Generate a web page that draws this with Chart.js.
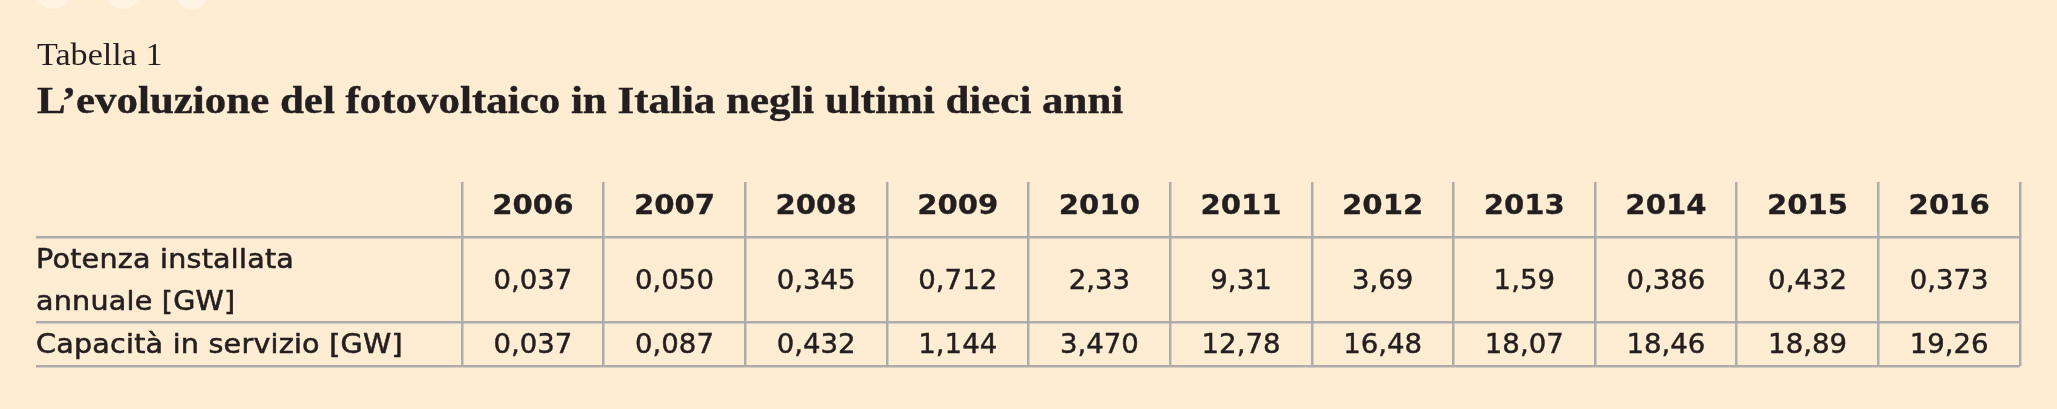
<!DOCTYPE html>
<html>
<head>
<meta charset="utf-8">
<script src="https://cdn.jsdelivr.net/npm/chart.js@4.4.1/dist/chart.umd.min.js"></script>
<style>
  html, body { margin: 0; padding: 0; background: #feedd3; }
  #wrap { width: 2057px; height: 409px; }
</style>
</head>
<body>
<div id="wrap"><canvas id="c" width="2057" height="409"></canvas></div>
<script>
// ---- data ----
const tableLabel = 'Tabella 1';
const tableTitle = 'L’evoluzione del fotovoltaico in Italia negli ultimi dieci anni';
const years = [2006, 2007, 2008, 2009, 2010, 2011, 2012, 2013, 2014, 2015, 2016];
const rowLabels = [['Potenza installata', 'annuale [GW]'], ['Capacità in servizio [GW]']];
const installedGW = [0.037, 0.050, 0.345, 0.712, 2.33, 9.31, 3.69, 1.59, 0.386, 0.432, 0.373];
const installedDecimals = [3, 3, 3, 3, 2, 2, 2, 2, 3, 3, 3];
const capacityGW = [0.037, 0.087, 0.432, 1.144, 3.470, 12.78, 16.48, 18.07, 18.46, 18.89, 19.26];
const capacityDecimals = [3, 3, 3, 3, 3, 2, 2, 2, 2, 2, 2];

// ---- layout (positions / styles, not data) ----
const rowBounds = [55, 140, 184];     // y-scale units: header | row1 | row2
const rowCenters = [22.5, 97.5, 162];
const labelColumnUnits = 3.008;       // width of label column, in year-columns
const textColor = '#231f20';
const lineColor = '#adadad';
const bgColor = '#feedd3';

const styles = {
  kicker: { font: '31px "Liberation Serif"', sx: 1.1, stroke: 0 },
  title:  { font: 'bold 38px "Liberation Serif"', sx: 1.13, stroke: 0.4 },
  header: { font: 'bold 27px "DejaVu Sans"', sx: 1.08, stroke: 0.3, spacing: 0 },
  cell:   { font: '26px "DejaVu Sans"', sx: 1.06, stroke: 0.45, spacing: 0 },
  label:  { font: '26px "DejaVu Sans"', sx: 1.1, stroke: 0.55, spacing: 0.2 }
};

const fmt = (v, d) => v.toFixed(d).replace('.', ',');

function drawText(ctx, text, x, y, st, align) {
  ctx.save();
  ctx.font = st.font;
  ctx.letterSpacing = (st.spacing || 0) + 'px';
  ctx.textAlign = align;
  ctx.textBaseline = 'alphabetic';
  ctx.fillStyle = textColor;
  ctx.strokeStyle = textColor;
  ctx.translate(x, y);
  ctx.scale(st.sx, 1);
  ctx.fillText(text, 0, 0);
  if (st.stroke) { ctx.lineWidth = st.stroke; ctx.strokeText(text, 0, 0); }
  ctx.restore();
}

const bgPlugin = {
  id: 'bg',
  beforeDraw(chart) {
    const ctx = chart.ctx;
    ctx.save();
    ctx.fillStyle = bgColor;
    ctx.fillRect(0, 0, chart.width, chart.height);
    ctx.fillStyle = '#fff4e6';
    [53, 123, 192].forEach(cx => { ctx.beginPath(); ctx.arc(cx, -8, 17, 0, Math.PI * 2); ctx.fill(); });
    ctx.restore();
    // headings, left-aligned with the table
    const left = chart.chartArea.left + 1;
    drawText(ctx, tableLabel, left, 65, styles.kicker, 'left');
    drawText(ctx, tableTitle, left, 113, styles.title, 'left');
  }
};

const tablePlugin = {
  id: 'tableText',
  afterDatasetsDraw(chart) {
    const ctx = chart.ctx;
    const xs = chart.scales.x, ys = chart.scales.y;
    chart.data.datasets.forEach((ds, di) => {
      const meta = chart.getDatasetMeta(di);
      const st = di === 0 ? styles.header : styles.cell;
      const size = parseFloat(st.font.match(/(\d+)px/)[1]);
      meta.data.forEach((pt, i) => {
        drawText(ctx, ds.texts[i], pt.x, pt.y + 0.3645 * size, st, 'center');
      });
    });
    // row labels in the first column
    const lx = xs.getPixelForValue(xs.min);
    rowLabels.forEach((lines, r) => {
      const cy = ys.getPixelForValue(rowCenters[r + 1]);
      const lh = 42;
      lines.forEach((line, k) => {
        const y = cy + (k - (lines.length - 1) / 2) * lh + 0.3645 * 26;
        drawText(ctx, line, lx, y, styles.label, 'left');
      });
    });
  }
};

const gridOpts = { color: lineColor, lineWidth: 2.5, drawTicks: false };

new Chart(document.getElementById('c'), {
  type: 'scatter',
  data: {
    datasets: [
      { label: 'Anno', texts: years.map(String), data: years.map(y => ({ x: y, y: rowCenters[0] })) },
      { label: 'Potenza installata annuale [GW]', texts: installedGW.map((v, i) => fmt(v, installedDecimals[i])),
        data: years.map(y => ({ x: y, y: rowCenters[1] })) },
      { label: 'Capacità in servizio [GW]', texts: capacityGW.map((v, i) => fmt(v, capacityDecimals[i])),
        data: years.map(y => ({ x: y, y: rowCenters[2] })) }
    ]
  },
  options: {
    responsive: false,
    animation: false,
    devicePixelRatio: 1,
    events: [],
    elements: { point: { radius: 0, hoverRadius: 0 } },
    layout: { padding: { left: 36, right: 37, top: 182, bottom: 43 } },
    scales: {
      x: {
        type: 'linear',
        min: years[0] - 0.5 - labelColumnUnits,
        max: years[years.length - 1] + 0.5,
        afterBuildTicks: s => { s.ticks = years.map(y => ({ value: y - 0.5 })).concat([{ value: years[years.length - 1] + 0.5 }]); },
        ticks: { display: false },
        grid: gridOpts,
        border: { display: false }
      },
      y: {
        type: 'linear',
        reverse: true,
        min: 0,
        max: rowBounds[rowBounds.length - 1],
        afterBuildTicks: s => { s.ticks = rowBounds.map(v => ({ value: v })); },
        ticks: { display: false },
        grid: gridOpts,
        border: { display: false }
      }
    },
    plugins: {
      legend: { display: false },
      tooltip: { enabled: false },
      title: { display: false }
    }
  },
  plugins: [bgPlugin, tablePlugin]
});
</script>
</body>
</html>
